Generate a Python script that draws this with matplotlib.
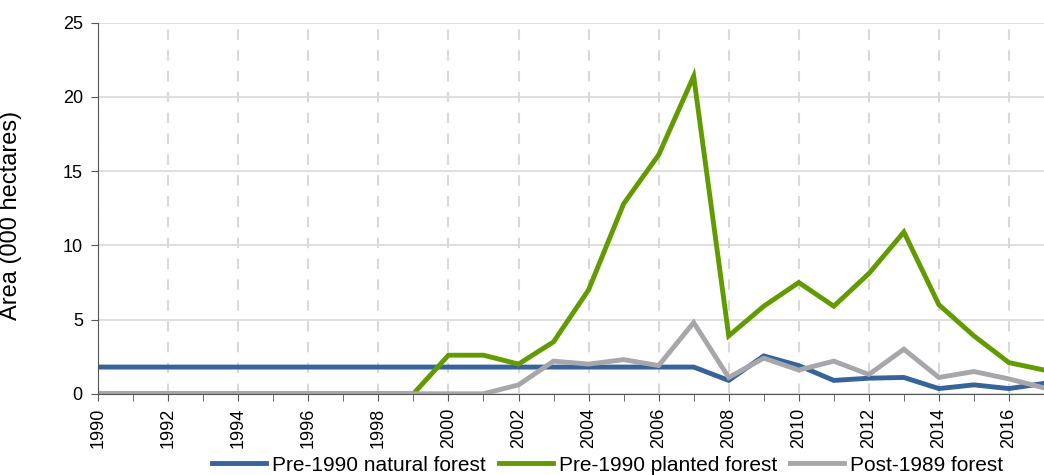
import numpy as np
import matplotlib.pyplot as plt

plt.rcParams['font.family'] = ['Liberation Sans', 'DejaVu Sans']

years = list(range(1990, 2018))

natural = [1.8] * 18 + [0.9, 2.55, 1.9, 0.9, 1.05, 1.1, 0.35, 0.6, 0.35, 0.7]
planted = [0, 0, 0, 0, 0, 0, 0, 0, 0, 0,
           2.6, 2.6, 2.0, 3.5, 7.0, 12.8, 16.1, 21.4,
           3.9, 5.9, 7.5, 5.9, 8.1, 10.9, 6.0, 3.9, 2.1, 1.6]
post1989 = [0] * 12 + [0.6, 2.2, 2.0, 2.3, 1.9, 4.8,
                       1.1, 2.4, 1.6, 2.2, 1.3, 3.0, 1.1, 1.5, 1.0, 0.4]

labels = ['Pre-1990 natural forest', 'Pre-1990 planted forest', 'Post-1989 forest']
colors = ['#36639A', '#619B00', '#A6A6AB']

fig = plt.figure(figsize=(10.44, 4.75), dpi=100)
ax = fig.add_axes([0.094, 0.171, 0.906, 0.781])

for vals, lab, col in zip([natural, planted, post1989], labels, colors):
    ax.plot(years, vals, color=col, lw=3.5, label=lab, solid_joinstyle='miter')

ax.set_xlim(1990, 2016.8)
ax.set_ylim(0, 25)
ax.set_xticks(range(1990, 2017, 2))
ax.set_xticks(range(1990, 2018), minor=True)
ax.set_yticks(range(0, 26, 5))
ax.tick_params(axis='x', rotation=90, labelsize=13, length=5, pad=5, color='#555555')
ax.tick_params(axis='x', which='minor', length=5, color='#555555')
ax.tick_params(axis='y', labelsize=13, length=5, pad=6, color='#555555')

# solid horizontal, dashed vertical gridlines
ax.grid(axis='y', color='#D9D9D9', lw=1.2)
ax.grid(axis='x', color='#D9D9D9', lw=1.5, ls=(0, (5, 5)))
ax.set_axisbelow(True)
for s in ['top', 'right']:
    ax.spines[s].set_visible(False)
for s in ['left', 'bottom']:
    ax.spines[s].set_color('#555555')

ax.set_ylabel('Area (000 hectares)', fontsize=17)
ax.yaxis.set_label_coords(-0.080, 0.482)

fig.legend(loc='center', bbox_to_anchor=(0.582, 0.021), ncol=3, frameon=False,
           fontsize=15, handlelength=2.6, columnspacing=0.6, handletextpad=0.3)

fig.savefig('out.png', dpi=100)
